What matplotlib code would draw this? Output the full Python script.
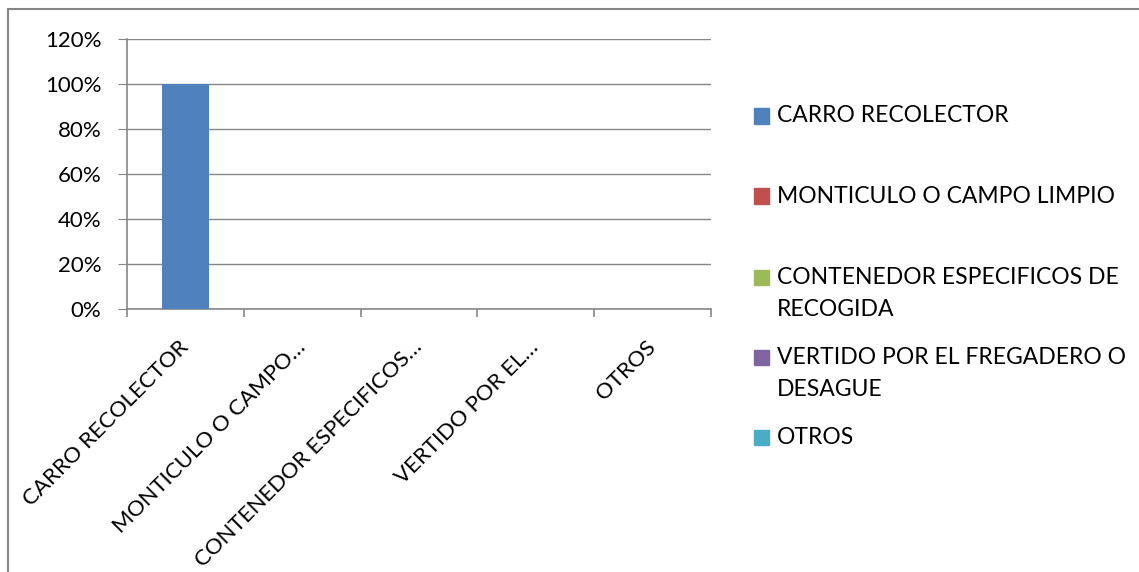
import matplotlib.pyplot as plt
from matplotlib.patches import Rectangle
from matplotlib.ticker import PercentFormatter

plt.rcParams['font.family'] = ['Lato', 'DejaVu Sans']

categories = ['CARRO RECOLECTOR', 'MONTICULO O CAMPO LIMPIO',
              'CONTENEDOR ESPECIFICOS DE\nRECOGIDA',
              'VERTIDO POR EL FREGADERO O\nDESAGUE', 'OTROS']
tick_labels = ['CARRO RECOLECTOR', 'MONTICULO O CAMPO\u2026',
               'CONTENEDOR ESPECIFICOS\u2026', 'VERTIDO POR EL\u2026', 'OTROS']
values = [1.0, 0.0, 0.0, 0.0, 0.0]
colors = ['#4F81BD', '#C0504D', '#9BBB59', '#8064A2', '#4BACC6']

W, H = 1139, 572
fig = plt.figure(figsize=(W / 100, H / 100), dpi=100)

# outer chart border (cut off at right/bottom like the source)
fig.patches.append(Rectangle((8 / W, -0.1), 1.2, 1 - 9 / H + 0.1,
                             transform=fig.transFigure, fill=False,
                             edgecolor='#868686', linewidth=1.5))

ax = fig.add_axes([127 / W, (H - 309) / H, (711 - 127) / W, (309 - 39) / H])
x = range(len(values))
ax.bar(x, values, width=0.4, color=colors, zorder=3)

ax.set_xlim(-0.5, len(values) - 0.5)
ax.set_ylim(0, 1.2)
ax.set_yticks([i * 0.2 for i in range(7)])
ax.yaxis.set_major_formatter(PercentFormatter(1.0, decimals=0))
ax.grid(axis='y', color='#868686', linewidth=1, zorder=0)

for s in ['top', 'right']:
    ax.spines[s].set_visible(False)
for s in ['left', 'bottom']:
    ax.spines[s].set_color('#868686')
    ax.spines[s].set_linewidth(1.2)

ax.tick_params(axis='y', length=6.5, color='#868686', labelsize=16, pad=12)
ax.set_xticks(list(x))
ax.set_xticklabels(tick_labels, rotation=45, ha='right', va='center',
                   rotation_mode='anchor', fontsize=16)
ax.tick_params(axis='x', length=0, pad=25)
ax.set_xticks([i - 0.5 for i in range(len(values) + 1)], minor=True)
ax.tick_params(axis='x', which='minor', length=6, color='#868686', width=1.2)

# legend drawn by hand to mimic the uneven Excel spacing
rows = [116, 196, 277, 357, 437]
for lab, col, yc in zip(categories, colors, rows):
    fig.patches.append(Rectangle((754 / W, (H - yc - 7.5) / H), 15 / W, 15 / H,
                                 transform=fig.transFigure, color=col))
    for k, line in enumerate(lab.split('\n')):
        fig.text(777 / W, (H - yc - 32 * k) / H, line, fontsize=16.5,
                 va='center', ha='left')

fig.savefig('out.png', dpi=100)
